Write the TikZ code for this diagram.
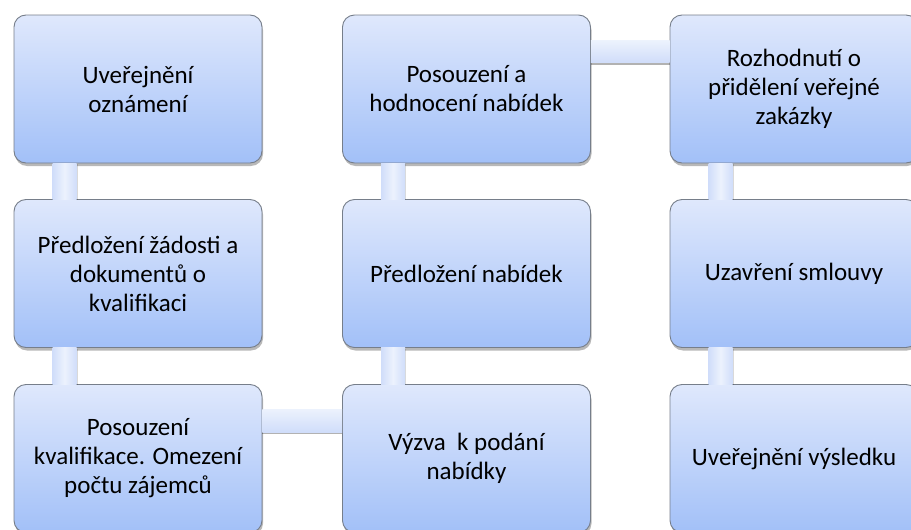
\documentclass[tikz,border=0pt]{standalone}
\usepackage{fontspec}
\setmainfont{Carlito}
\usetikzlibrary{calc,shadows}
\definecolor{boxtop}{RGB}{223,232,252}
\definecolor{boxbot}{RGB}{162,192,248}
\definecolor{boxline}{RGB}{118,126,138}
\definecolor{conntop}{RGB}{236,242,253}
\definecolor{connbot}{RGB}{208,221,250}
\newcommand{\boxfont}{\fontsize{25pt}{29pt}\selectfont}
\tikzset{
  stepbox/.style={rectangle, rounded corners=12pt, minimum width=248pt, minimum height=148pt,
    inner sep=0pt, align=center, draw=boxline, line width=0.9pt,
    top color=boxtop, bottom color=boxbot,
    font=\boxfont, text=black,
    drop shadow={shadow xshift=1pt, shadow yshift=-3pt, fill=black, opacity=0.28}},
  vconn/.style={left color=connbot, right color=connbot, middle color=conntop, draw=none,
    drop shadow={shadow xshift=1pt, shadow yshift=-1pt, fill=black, opacity=0.15}},
  hconn/.style={top color=conntop, bottom color=connbot, draw=none,
    drop shadow={shadow xshift=0pt, shadow yshift=-2pt, fill=black, opacity=0.3}}
}
\begin{document}
\begin{tikzpicture}[x=1pt, y=-1pt]
\useasboundingbox (0,0) rectangle (911,530);
\clip (0,0) rectangle (911,530);
% boxes
\node[stepbox] (n1) at (138,89) {Uveřejnění\\oznámení};
\node[stepbox] (n2) at (138,273.5) {Předložení žádosti a\\dokumentů o\\kvalifikaci};
\node[stepbox] (n3) at (138,458.5) {Posouzení\\kvalifikace. Omezení\\počtu zájemců};
\node[stepbox] (n4) at (466.5,458.5) {Výzva\ \ k podání\\nabídky};
\node[stepbox] (n5) at (466.5,273.5) {Předložení nabídek};
\node[stepbox] (n6) at (466.5,89) {Posouzení a\\hodnocení nabídek};
\node[stepbox] (n7) at (794,89) {Rozhodnutí o\\přidělení veřejné\\zakázky};
\node[stepbox] (n8) at (794,273.5) {Uzavření smlouvy};
\node[stepbox] (n9) at (794,458.5) {Uveřejnění výsledku};
% connectors
\path[vconn] ($(n1.south west)+(39,0)$) rectangle ($(n2.north west)+(63,0)$);
\path[vconn] ($(n2.south west)+(39,0)$) rectangle ($(n3.north west)+(63,0)$);
\path[hconn] ($(n3.north east)+(0,25)$) rectangle ($(n4.north west)+(0,48)$);
\path[vconn] ($(n5.south west)+(39,0)$) rectangle ($(n4.north west)+(63,0)$);
\path[vconn] ($(n6.south west)+(39,0)$) rectangle ($(n5.north west)+(63,0)$);
\path[hconn] ($(n6.north east)+(0,26)$) rectangle ($(n7.north west)+(0,48)$);
\path[vconn] ($(n7.south west)+(39,0)$) rectangle ($(n8.north west)+(63,0)$);
\path[vconn] ($(n8.south west)+(39,0)$) rectangle ($(n9.north west)+(63,0)$);
\end{tikzpicture}
\end{document}
